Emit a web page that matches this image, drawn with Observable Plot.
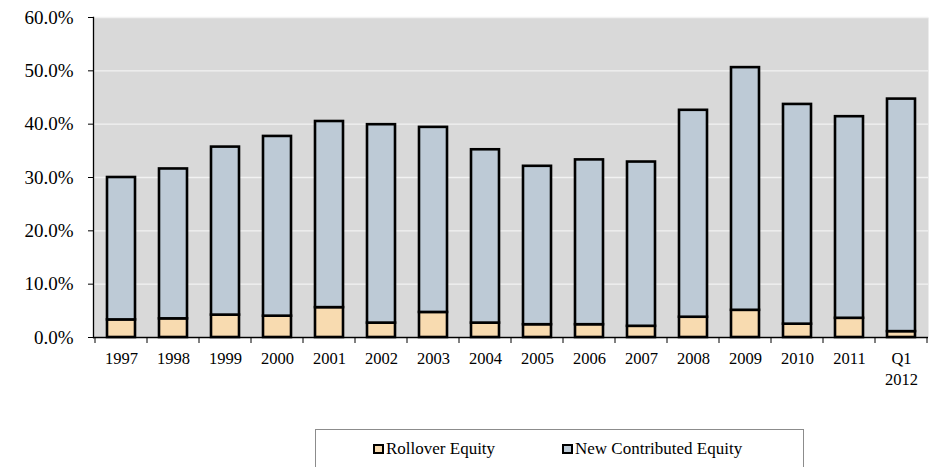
<!DOCTYPE html>
<html>
<head>
<meta charset="utf-8">
<script src="https://cdn.jsdelivr.net/npm/d3@7"></script>
<script src="https://cdn.jsdelivr.net/npm/@observablehq/plot@0.6"></script>
<style>
  body { margin: 0; background: #fff; font-family: "Liberation Serif", "Times New Roman", serif; }
  #wrap { position: relative; width: 938px; height: 467px; }
  #legend {
    position: absolute; left: 315px; top: 429px; width: 489px; height: 50px;
    border: 1px solid #8c8c8c; box-sizing: border-box;
    font-size: 17px; color: #000;
  }
  .item { position: absolute; top: 9px; display: flex; align-items: center; }
  .sw { width: 7px; height: 6px; border: 2px solid #000; margin-right: 2px; }
</style>
</head>
<body>
<div id="wrap">
  <div id="chart"></div>
  <div id="legend">
    <div class="item" style="left:57px"><span class="sw" style="background:#f8dbb0"></span>Rollover Equity</div>
    <div class="item" style="left:246px"><span class="sw" style="background:#bdcad6"></span>New Contributed Equity</div>
  </div>
</div>
<script>
const categories = ["1997","1998","1999","2000","2001","2002","2003","2004","2005","2006","2007","2008","2009","2010","2011","Q1\n2012"];
const rollover   = [3.3, 3.5, 4.2, 4.0, 5.6, 2.7, 4.7, 2.7, 2.4, 2.4, 2.1, 3.8, 5.1, 2.5, 3.6, 1.1];
const newContrib = [26.7, 28.1, 31.5, 33.7, 34.9, 37.2, 34.7, 32.5, 29.7, 30.9, 30.8, 38.8, 45.5, 41.2, 37.8, 43.6];
const seriesNames = ["Rollover Equity", "New Contributed Equity"];
const seriesColors = ["#f8dbb0", "#bdcad6"];
const yTicks = [0, 10, 20, 30, 40, 50, 60];

const data = [];
categories.forEach((c, i) => {
  data.push({cat: c, series: seriesNames[0], value: rollover[i]});
  data.push({cat: c, series: seriesNames[1], value: newContrib[i]});
});

const serif = "'Liberation Serif', 'Times New Roman', serif";

const plot = Plot.plot({
  width: 938,
  height: 429,
  marginLeft: 93,
  marginRight: 10,
  marginTop: 17,
  marginBottom: 92,
  style: {fontFamily: serif, fontSize: "16px", color: "#000", background: "transparent"},
  x: {domain: categories, paddingInner: 0.47, paddingOuter: 0.235, label: null},
  y: {domain: [0, 60], label: null},
  color: {domain: seriesNames, range: seriesColors},
  marks: [
    Plot.frame({fill: "#d9d9d9", stroke: null}),
    Plot.gridY(yTicks, {stroke: "#f2f2f2", strokeOpacity: 1, strokeWidth: 1.3}),
    Plot.barY(data, Plot.stackY({x: "cat", y: "value", fill: "series", stroke: "#000", strokeWidth: 2.6, order: seriesNames})),
    Plot.axisY(yTicks, {tickSize: 5, tickPadding: 15, tickFormat: d => d.toFixed(1) + "%", fontSize: 19, stroke: "#000", fontFamily: serif}),
    Plot.axisX({tickSize: 0, tickPadding: 12, fontSize: 16.5, lineHeight: 1.27, fontFamily: serif}),
    Plot.ruleY([0], {stroke: "#000", strokeWidth: 1.3}),
    Plot.frame({anchor: "left", stroke: "#000", strokeWidth: 1.3})
  ]
});
document.getElementById("chart").appendChild(plot);

// category boundary ticks on the x axis, placed with the plot's own x scale
const xs = plot.scale("x");
const ys = plot.scale("y");
const svg = d3.select(plot);
const y0 = ys.apply(0);
const bounds = categories.map(c => xs.apply(c) - (xs.step - xs.bandwidth) / 2);
bounds.push(xs.apply(categories[categories.length - 1]) + xs.bandwidth + (xs.step - xs.bandwidth) / 2);
svg.append("g").selectAll("line").data(bounds).join("line")
  .attr("x1", d => d).attr("x2", d => d)
  .attr("y1", y0).attr("y2", y0 + 6)
  .attr("stroke", "#000").attr("stroke-width", 1);
</script>
</body>
</html>
